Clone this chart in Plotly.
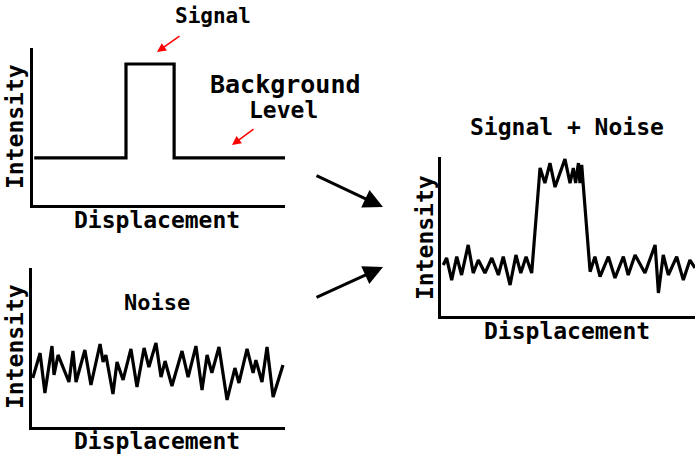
import plotly.graph_objects as go

W, H = 700, 459

# ---- data (arbitrary units: displacement 0-100, intensity 0-100) ----
signal_x = [0.5, 36.9, 36.9, 56.0, 56.0, 100]
signal_y = [30, 30, 89.8, 89.8, 30, 30]

noise_x = [0.3, 3.2, 5.1, 7.9, 8.7, 10.3, 14.6, 16.2, 17.4, 20.9, 23.3, 26.9, 28.1, 29.2,
           32.0, 33.6, 36.0, 39.1, 41.5, 44.3, 46.2, 49.0, 51.0, 52.6, 55.3, 59.3, 61.7,
           64.8, 67.2, 69.2, 71.1, 73.9, 77.1, 80.2, 81.8, 85.0, 87.4, 88.5, 90.9, 92.9,
           95.3, 99.2]
noise_y = [30.8, 46.5, 21.4, 50.9, 32.7, 45.3, 28.3, 47.8, 28.3, 48.4, 26.4, 52.2, 40.9, 45.3,
           20.8, 40.9, 29.6, 49.1, 25.2, 49.7, 37.7, 52.8, 31.4, 41.5, 25.8, 47.8, 31.4,
           50.9, 23.3, 45.3, 34.0, 50.3, 17.0, 37.1, 27.7, 49.1, 34.0, 42.1, 28.3, 50.3,
           18.9, 39.0]

combo_x = [0.9, 2.2, 4.2, 6.2, 8.1, 10.7, 12.7, 14.7, 17.3, 20.0, 22.6, 24.5, 27.2, 29.5,
           31.4, 33.5, 35.7, 39.0, 40.9, 42.9, 44.9, 48.8, 50.8, 52.1, 53.0, 54.1, 54.7,
           55.4, 56.0, 58.7, 60.6, 62.6, 65.9, 68.5, 71.8, 73.7, 76.4, 80.3, 84.3, 85.6,
           87.5, 89.5, 92.8, 95.4, 98.0, 100]
combo_y = [32.1, 36.5, 22.6, 37.3, 25.8, 44.7, 27.0, 35.2, 27.0, 36.5, 25.8, 37.3, 19.5, 38.4,
           27.0, 37.3, 27.0, 93.1, 83.6, 96.2, 81.1, 98.7, 83.6, 93.1, 83.6, 96.2, 83.6,
           95.0, 82.4, 27.9, 37.3, 24.7, 37.3, 23.9, 37.3, 25.8, 38.4, 27.0, 44.7, 14.5,
           38.4, 25.8, 37.3, 22.6, 35.2, 30.2]

axis_title_x = "Displacement"
axis_title_y = "Intensity"
FONT = "DejaVu Sans Mono"


def px(x):
    return x / W


def py(y):
    return 1 - y / H


# panel boxes in pixels: (left, right, top, bottom)
panels = [
    (33, 285, 48, 205),
    (32, 285, 268, 427),
    (441, 695, 157, 316),
]

fig = go.Figure()
series = [(signal_x, signal_y), (noise_x, noise_y), (combo_x, combo_y)]
layout_axes = {}
for i, ((l, r, t, b), (xs, ys)) in enumerate(zip(panels, series), start=1):
    sfx = "" if i == 1 else str(i)
    fig.add_trace(go.Scatter(x=xs, y=ys, mode="lines",
                             line=dict(color="black", width=3.2),
                             xaxis="x" + sfx, yaxis="y" + sfx,
                             showlegend=False, hoverinfo="skip"))
    common = dict(showline=True, linecolor="black", linewidth=3, showgrid=False,
                  zeroline=False, showticklabels=False, ticks="", fixedrange=True)
    layout_axes["xaxis" + sfx] = dict(domain=[px(l), px(r)], range=[0, 100],
                                      anchor="y" + sfx, **common)
    layout_axes["yaxis" + sfx] = dict(domain=[py(b), py(t)], range=[0, 100],
                                      anchor="x" + sfx, **common)

fig.update_layout(**layout_axes)

texts = [
    ("Signal", 213, 16, 21, 0),
    ("Background", 285, 84, 25, 0),
    ("Level", 283, 110, 23, 0),
    ("Noise", 157, 302, 22, 0),
    ("Signal + Noise", 567, 127, 23, 0),
    (axis_title_x, 157, 220, 23, 0),
    (axis_title_x, 157, 441, 23, 0),
    (axis_title_x, 567, 331, 23, 0),
    (axis_title_y, 15, 127, 23, -90),
    (axis_title_y, 15, 347, 23, -90),
    (axis_title_y, 425, 237, 23, -90),
]
annotations = []
for txt, x, y, size, ang in texts:
    annotations.append(dict(text="<b>" + txt + "</b>", x=px(x), y=py(y),
                            xref="paper", yref="paper",
                            showarrow=False, textangle=ang, xanchor="center",
                            yanchor="middle",
                            font=dict(family=FONT, size=size, color="black")))

# arrows: (head_x, head_y, tail_dx, tail_dy, color, width, headsize)
arrows = [
    (383, 207, -68, -32, "black", 3, 1.3),
    (383, 267, -68, 31, "black", 3, 1.3),
    (157, 52, 24, -17, "red", 1.5, 1.2),
    (232, 145, 23, -17, "red", 1.5, 1.2),
]
for hx, hy, dx, dy, col, w, hs in arrows:
    annotations.append(dict(x=px(hx), y=py(hy), xref="paper", yref="paper",
                            ax=dx, ay=dy, axref="pixel", ayref="pixel",
                            showarrow=True, arrowhead=2, arrowsize=hs,
                            arrowwidth=w, arrowcolor=col, text=""))

fig.update_layout(annotations=annotations, width=W, height=H,
                  margin=dict(l=0, r=0, t=0, b=0),
                  paper_bgcolor="white", plot_bgcolor="white")

fig.write_html("out.html", config={"displayModeBar": False},
               post_script="document.body.style.margin='0';document.body.style.overflow='hidden';")
